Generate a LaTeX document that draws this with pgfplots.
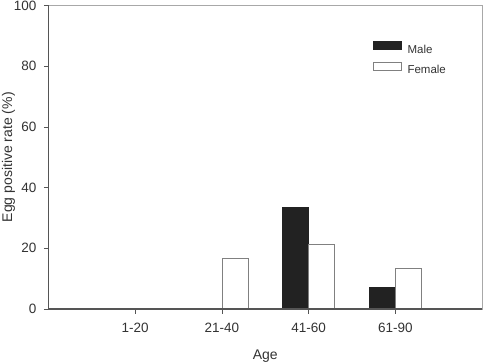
\documentclass[border=0pt]{standalone}
\usepackage{pgfplots}
\pgfplotsset{compat=1.18}
\usepackage{fontspec}
\setmainfont{Liberation Sans}
\definecolor{txt}{HTML}{333333}
\definecolor{axc}{HTML}{555555}
\definecolor{frm}{HTML}{A8A8A8}
\definecolor{malec}{HTML}{222222}
\definecolor{edgec}{HTML}{808080}
\begin{document}
\begin{tikzpicture}
\begin{axis}[
  scale only axis, width=433.5bp, height=303.5bp,
  xmin=0, xmax=5, ymin=0, ymax=100,
  axis line style={frm, line width=0.8bp},
  xtick={1,2,3,4}, xticklabels={1-20,21-40,41-60,61-90},
  ytick={0,20,40,60,80,100},
  tick align=outside, tick pos=left, major tick length=4.5bp,
  tick style={axc, line width=0.8bp},
  /pgf/number format/assume math mode=true,
  tick label style={font=\fontsize{13.5bp}{15bp}\selectfont, text=txt},
  xticklabel style={inner sep=0pt, anchor=north, yshift=-9bp},
  yticklabel style={inner sep=0pt, anchor=east, xshift=-7.5bp},
  xlabel={Age}, ylabel={Egg positive rate (\%)},
  label style={font=\fontsize{14bp}{16bp}\selectfont, text=txt},
  xlabel style={at={(rel axis cs:0.5,0)}, anchor=base, yshift=-50bp, inner sep=0pt},
  ylabel style={at={(rel axis cs:0,0.5)}, anchor=center, yshift=40bp},
  legend style={at={(rel axis cs:0.747,0.884)}, anchor=north west, draw=none, fill=none,
    inner sep=0pt, nodes={inner sep=0pt, text=txt}, column sep=5.8bp, row sep=7bp,
    font=\fontsize{11.5bp}{13bp}\selectfont},
  legend cell align=left,
  legend image code/.code={\draw[#1, line width=0.8bp] (0bp,0bp) rectangle (28.4bp,8.3bp);},
  after end axis/.code={
    \draw[axc, line width=1.1bp] (rel axis cs:0,1) -- (rel axis cs:0,0) -- (rel axis cs:1,0);
    \coordinate (sw) at (rel axis cs:0,0);
    \coordinate (ne) at (rel axis cs:1,1);
  },
]
\addplot[ybar, bar width=0.3, bar shift=-0.15, fill=malec, draw=malec, line width=0.8bp]
  coordinates {(1,0) (2,0) (3,33.4) (4,7.1)};
\addlegendentry{Male}
\addplot[ybar, bar width=0.3, bar shift=0.15, fill=white, draw=edgec, line width=0.8bp]
  coordinates {(1,0) (2,16.8) (3,21.3) (4,13.5)};
\addlegendentry{Female}
\end{axis}
\pgfresetboundingbox
\path ([shift={(-48.5bp,-54bp)}]sw) rectangle ([shift={(2bp,5.5bp)}]ne);
\end{tikzpicture}
\end{document}
